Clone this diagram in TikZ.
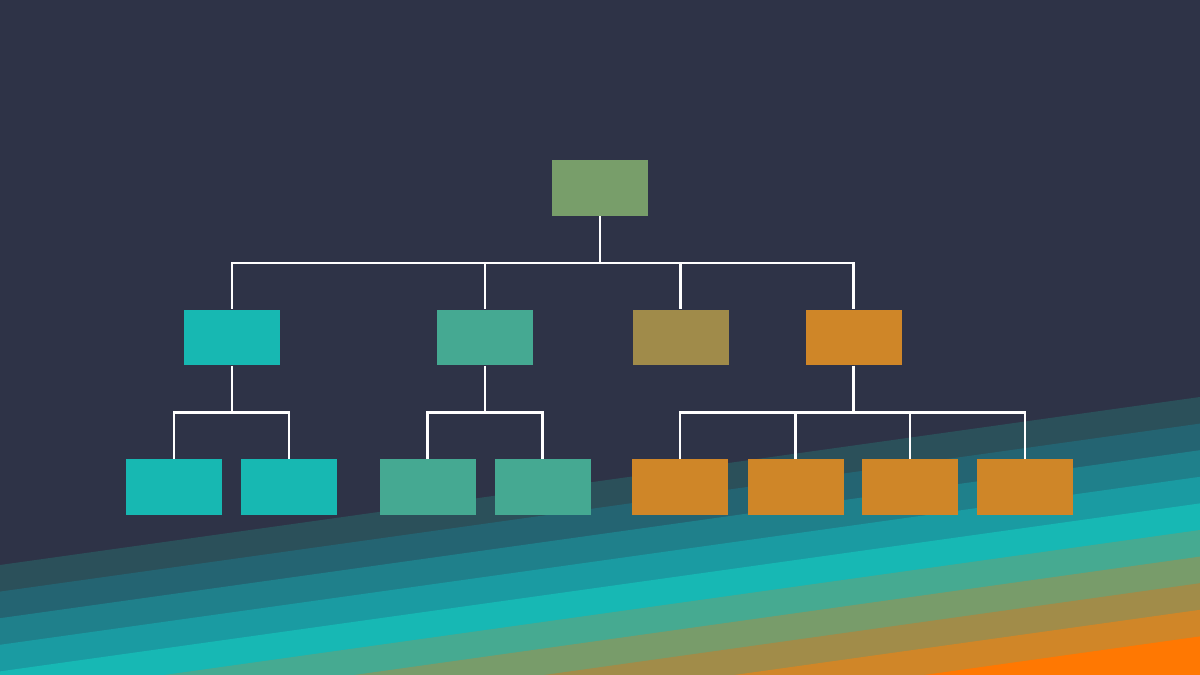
\documentclass[tikz,border=0pt]{standalone}
\usepackage{tikz}
\usetikzlibrary{positioning,calc}
\definecolor{fond}{RGB}{46,51,71}
\definecolor{vertroot}{RGB}{120,158,106}
\definecolor{turquoise}{RGB}{23,184,178}
\definecolor{vertmer}{RGB}{69,169,146}
\definecolor{olive}{RGB}{160,139,74}
\definecolor{orangebox}{RGB}{207,134,40}
\definecolor{bandA}{RGB}{43,80,90}
\definecolor{bandB}{RGB}{36,100,114}
\definecolor{bandC}{RGB}{31,128,139}
\definecolor{bandD}{RGB}{26,155,162}
\definecolor{bandE}{RGB}{23,184,180}
\definecolor{bandF}{RGB}{70,170,145}
\definecolor{bandG}{RGB}{120,156,106}
\definecolor{bandH}{RGB}{161,140,73}
\definecolor{bandI}{RGB}{208,134,40}
\definecolor{bandJ}{RGB}{255,120,2}

\begin{document}
\begin{tikzpicture}[
    box/.style={
        rectangle,
        inner sep=0pt,
        minimum width=0.96cm,
        minimum height=0.555cm
    },
    link/.style={draw=white, line width=0.6pt}
]

% === Fond ===
\useasboundingbox (0,0) rectangle (12,6.75);
\fill[fond] (0,0) rectangle (12,6.75);

% === Bandes obliques ===
\begin{scope}
\clip (0,0) rectangle (12,6.75);
\foreach \col [count=\k from 0] in {bandA,bandB,bandC,bandD,bandE,bandF,bandG,bandH,bandI,bandJ}
    \fill[\col] (0,{1.10-0.266*\k}) -- (12,{2.78-0.266*\k}) -- (12,-1) -- (0,-1) -- cycle;
\end{scope}

% === Racine ===
\node[box, fill=vertroot] (root) at (6.00, 4.87) {};

% === Niveau 2 ===
\node[box, fill=turquoise] (a) at (2.32, 3.375) {};
\node[box, fill=vertmer] (b) at (4.85, 3.375) {};
\node[box, fill=olive] (c) at (6.805, 3.375) {};
\node[box, fill=orangebox] (d) at (8.535, 3.375) {};

% === Niveau 3 ===
\node[box, fill=turquoise] (a1) at (1.74, 1.88) {};
\node[box, fill=turquoise] (a2) at (2.89, 1.88) {};

\node[box, fill=vertmer] (b1) at (4.275, 1.88) {};
\node[box, fill=vertmer] (b2) at (5.425, 1.88) {};

\node[box, fill=orangebox] (d1) at (6.80, 1.88) {};
\node[box, fill=orangebox] (d2) at (7.955, 1.88) {};
\node[box, fill=orangebox] (d3) at (9.10, 1.88) {};
\node[box, fill=orangebox] (d4) at (10.25, 1.88) {};

% === Liens racine ===
\foreach \n in {a,b,c,d}
    \draw[link] (root.south) -- ++(0,-0.465) -| (\n.north);

% === Liens niveau 2 ===
\foreach \n in {a1,a2}
    \draw[link] (a.south) -- ++(0,-0.465) -| (\n.north);
\foreach \n in {b1,b2}
    \draw[link] (b.south) -- ++(0,-0.465) -| (\n.north);
\foreach \n in {d1,d2,d3,d4}
    \draw[link] (d.south) -- ++(0,-0.465) -| (\n.north);

\end{tikzpicture}
\end{document}
